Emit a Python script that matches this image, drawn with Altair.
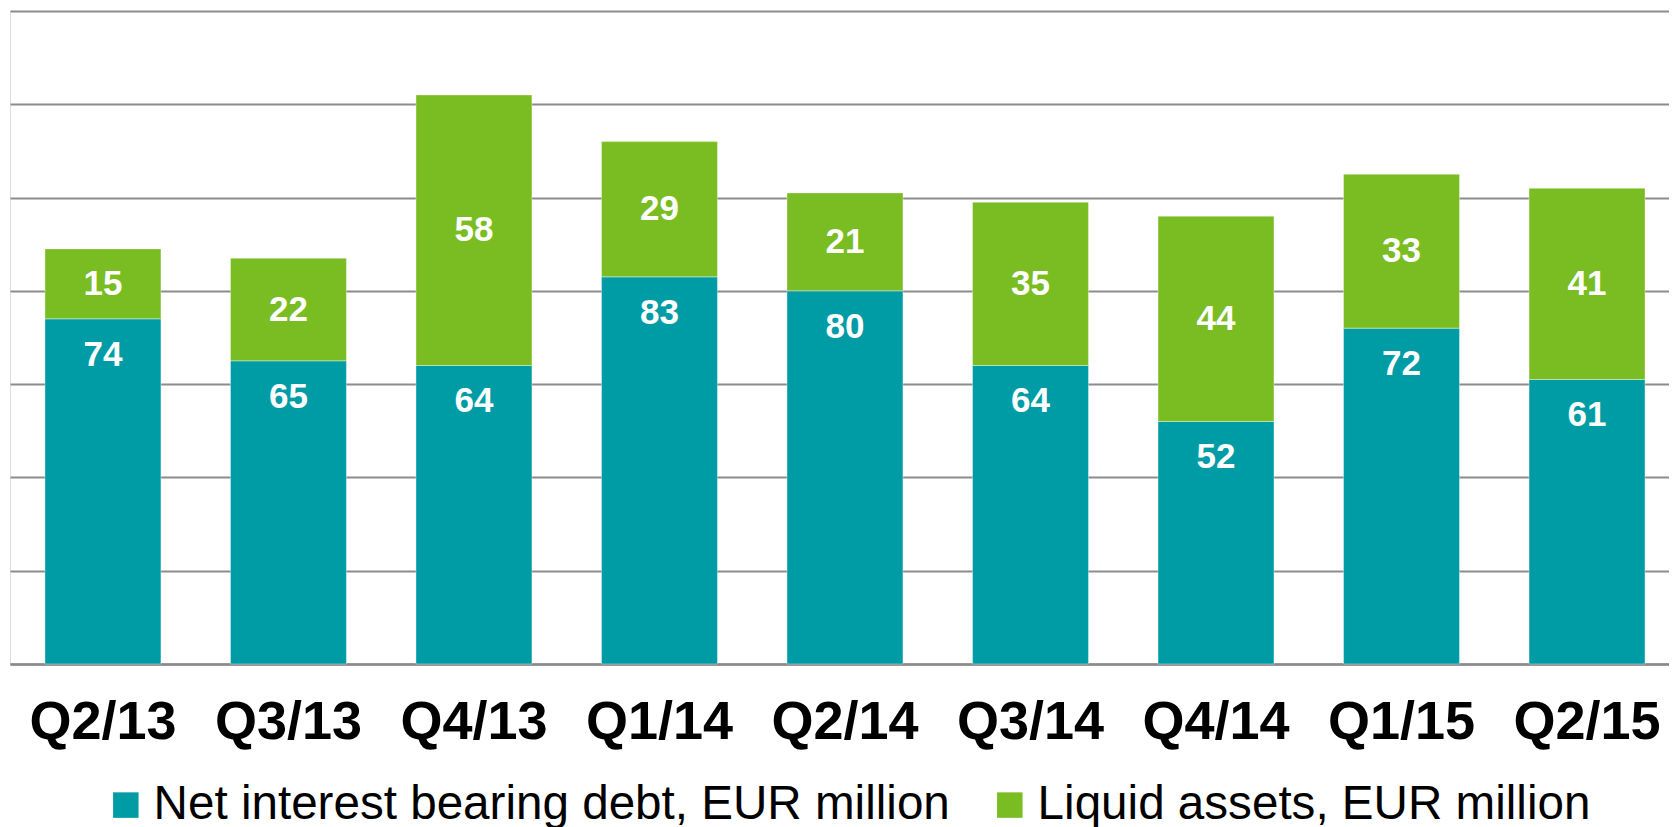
import altair as alt
import pandas as pd

quarters = ["Q2/13", "Q3/13", "Q4/13", "Q1/14", "Q2/14", "Q3/14", "Q4/14", "Q1/15", "Q2/15"]
net_debt = [74, 65, 64, 83, 80, 64, 52, 72, 61]
liquid = [15, 22, 58, 29, 21, 35, 44, 33, 41]
series_names = ["Net interest bearing debt, EUR million", "Liquid assets, EUR million"]
colors = ["#009ca6", "#7abd22"]

rows = []
for q, n, l in zip(quarters, net_debt, liquid):
    rows.append({"quarter": q, "series": series_names[0], "value": n, "ord": 0})
    rows.append({"quarter": q, "series": series_names[1], "value": l, "ord": 1})
df = pd.DataFrame(rows)

lab_net = pd.DataFrame({"quarter": quarters, "value": net_debt, "ypos": net_debt})
lab_liq = pd.DataFrame({"quarter": quarters, "value": liquid,
                        "ypos": [n + l / 2 for n, l in zip(net_debt, liquid)]})

FONT = "Liberation Sans, Arial, sans-serif"

x_enc = alt.X("quarter:N", sort=quarters, title=None,
              scale=alt.Scale(paddingInner=0.375, paddingOuter=0.159, align=0.593),
              axis=alt.Axis(labelFontSize=54, labelFont=FONT, labelFontWeight="bold",
                            labelColor="black", labelPadding=31, ticks=False,
                            domainColor="#8a8a8a", domainWidth=2.5, labelAngle=0,
                            grid=False))

bars = alt.Chart(df).mark_bar(stroke="#ffffff", strokeWidth=0.6, strokeOpacity=0.6).encode(
    x=x_enc,
    y=alt.Y("value:Q", stack="zero", title=None,
            scale=alt.Scale(domain=[0, 140], nice=False),
            axis=alt.Axis(values=[0, 20, 40, 60, 80, 100, 120, 140], labels=False, ticks=False,
                          domain=False, gridColor="#8c8c8c", gridWidth=2)),
    color=alt.Color("series:N", scale=alt.Scale(domain=series_names, range=colors),
                    legend=alt.Legend(title=None, orient="none", legendX=92, legendY=770,
                                      direction="horizontal", symbolType="square",
                                      symbolSize=650, symbolStrokeWidth=0,
                                      labelFontSize=47.6, labelFont=FONT, labelColor="black",
                                      labelLimit=2000, columnPadding=36, labelOffset=4,
                                      padding=0, symbolOpacity=1)),
    order=alt.Order("ord:Q"),
)

txt_net = alt.Chart(lab_net).mark_text(color="white", font=FONT, fontWeight="bold",
                                       fontSize=35, dy=36, baseline="middle").encode(
    x=alt.X("quarter:N", sort=quarters),
    y=alt.Y("ypos:Q"),
    text=alt.Text("value:Q"),
)

txt_liq = alt.Chart(lab_liq).mark_text(color="white", font=FONT, fontWeight="bold",
                                       fontSize=35, baseline="middle").encode(
    x=alt.X("quarter:N", sort=quarters),
    y=alt.Y("ypos:Q"),
    text=alt.Text("value:Q"),
)

chart = alt.layer(bars, txt_net, txt_liq).properties(
    width=1659, height=653,
    padding={"left": 2, "top": 3, "right": 0, "bottom": 0},
).configure_view(stroke=None).configure(background="white")

chart.save("out.html", embed_options={"renderer": "svg", "actions": False})
